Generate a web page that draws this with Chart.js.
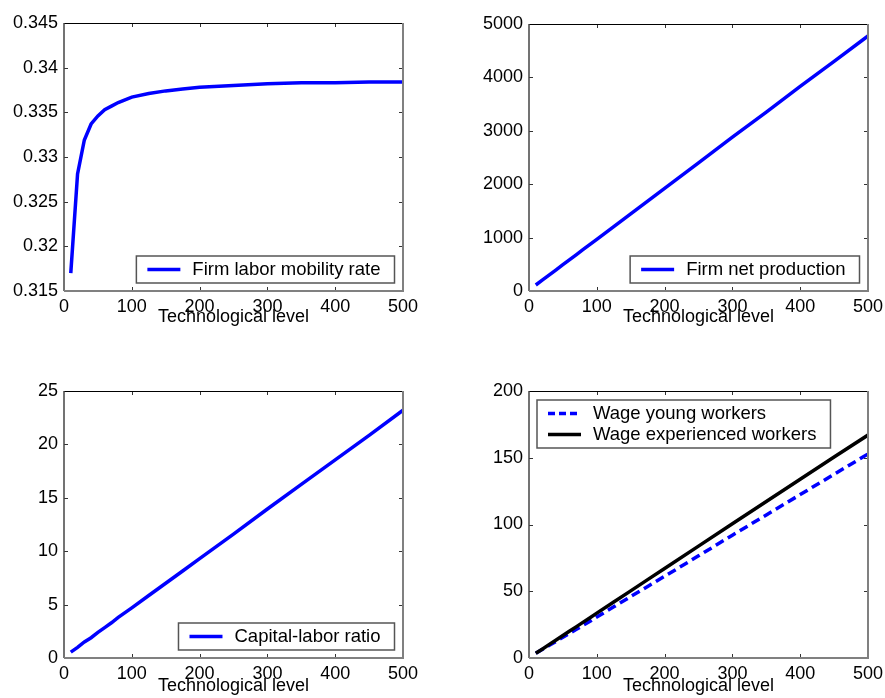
<!DOCTYPE html>
<html>
<head>
<meta charset="utf-8">
<script src="https://cdn.jsdelivr.net/npm/chart.js@4.4.0/dist/chart.umd.min.js"></script>
<style>
html,body{margin:0;padding:0;background:#fff;}
body{width:885px;height:698px;position:relative;overflow:hidden;}
.cell{position:absolute;}
</style>
</head>
<body>
<div class="cell" style="left:0;top:0;width:440px;height:349px"><canvas id="p1"></canvas></div>
<div class="cell" style="left:440px;top:0;width:445px;height:349px"><canvas id="p2"></canvas></div>
<div class="cell" style="left:0;top:349px;width:440px;height:349px"><canvas id="p3"></canvas></div>
<div class="cell" style="left:440px;top:349px;width:445px;height:349px"><canvas id="p4"></canvas></div>
<script>
// values
const techLevel       = [10, 20, 30, 40, 50, 60, 70, 80, 90, 100, 125, 150, 175, 200, 250, 300, 350, 400, 450, 500];
const mobilityRate    = [0.3170, 0.3281, 0.3319, 0.3337, 0.3346, 0.3353, 0.3357, 0.3361, 0.3364, 0.3367, 0.3371, 0.3374, 0.3376, 0.3378, 0.3380, 0.3382, 0.3383, 0.3383, 0.3384, 0.3384];
const netProduction   = [112, 207, 302, 397, 493, 588, 683, 778, 873, 968, 1206, 1444, 1685, 1922, 2398, 2880, 3350, 3830, 4300, 4775];
const capitalLabor    = [0.55, 1.0, 1.5, 1.9, 2.4, 2.85, 3.3, 3.8, 4.25, 4.7, 5.85, 7.0, 8.15, 9.3, 11.6, 13.95, 16.25, 18.55, 20.85, 23.2];
const wageYoung       = [3.5, 6.5, 9.5, 12.5, 15.5, 18.5, 21.5, 24.5, 27.5, 30.7, 38.3, 46.0, 53.6, 61.2, 76.5, 92.0, 107.2, 122.4, 137.6, 152.8];
const wageExperienced = [3.5, 6.8, 10.2, 13.5, 16.9, 20.2, 23.5, 26.9, 30.2, 33.6, 42.0, 50.3, 58.7, 67.0, 83.8, 100.5, 117.2, 133.9, 150.6, 167.0];

const xTicks          = [0, 100, 200, 300, 400, 500];
const mobilityTicks   = [0.315, 0.32, 0.325, 0.33, 0.335, 0.34, 0.345];
const productionTicks = [0, 1000, 2000, 3000, 4000, 5000];
const ratioTicks      = [0, 5, 10, 15, 20, 25];
const wageTicks       = [0, 50, 100, 150, 200];

const FONT = "'Liberation Sans', Arial, Helvetica, sans-serif";
Chart.defaults.font.family = FONT;
Chart.defaults.font.size = 18;
Chart.defaults.color = '#000';

function pts(ys){ return techLevel.map((x, i) => ({x: x, y: ys[i]})); }

// matlab style box, inward ticks and boxed legend
const matlabBox = {
	id: 'matlabBox',
	afterDatasetsDraw(chart, args, opts){
		const ctx = chart.ctx, a = chart.chartArea;
		const xs = chart.scales.x, ys = chart.scales.y;
		ctx.save();
		ctx.strokeStyle = '#333';
		ctx.lineWidth = 1;
		ctx.beginPath();
		xs.ticks.forEach(t => {
			const px = Math.round(xs.getPixelForValue(t.value)) + 0.5;
			if(px < a.left + 2 || px > a.right - 2) return;
			ctx.moveTo(px, a.bottom); ctx.lineTo(px, a.bottom - 4);
			ctx.moveTo(px, a.top); ctx.lineTo(px, a.top + 4);
		});
		ys.ticks.forEach(t => {
			const py = Math.round(ys.getPixelForValue(t.value)) + 0.5;
			if(py < a.top + 2 || py > a.bottom - 2) return;
			ctx.moveTo(a.left, py); ctx.lineTo(a.left + 4, py);
			ctx.moveTo(a.right, py); ctx.lineTo(a.right - 4, py);
		});
		ctx.stroke();

		// frame
		ctx.strokeStyle = '#000'; ctx.lineWidth = 1;
		ctx.beginPath(); ctx.moveTo(a.left, a.top + 0.5); ctx.lineTo(a.right, a.top + 0.5); ctx.stroke();
		ctx.strokeStyle = '#444'; ctx.lineWidth = 1.5;
		ctx.beginPath(); ctx.moveTo(a.left, a.top); ctx.lineTo(a.left, a.bottom); ctx.stroke();
		ctx.strokeStyle = '#808080'; ctx.lineWidth = 2;
		ctx.beginPath(); ctx.moveTo(a.left, a.bottom); ctx.lineTo(a.right, a.bottom); ctx.lineTo(a.right, a.top); ctx.stroke();

		// legend
		const ds = chart.data.datasets;
		ctx.font = '18.5px ' + FONT;
		const tw = Math.max(...ds.map(d => ctx.measureText(d.label).width));
		const w = 56 + tw + 14, h = 27 + 21 * (ds.length - 1);
		let x0, y0;
		if(opts.corner === 'nw'){ x0 = a.left + 8; y0 = a.top + 9; }
		else { x0 = a.right - 8.5 - w; y0 = a.bottom - 8 - h; }
		ctx.fillStyle = '#fff';
		ctx.fillRect(x0, y0, w, h);
		ctx.strokeStyle = '#555'; ctx.lineWidth = 1.5;
		ctx.strokeRect(x0, y0, w, h);
		ds.forEach((d, i) => {
			const yy = y0 + 13.5 + 21 * i;
			ctx.beginPath();
			ctx.setLineDash(d.legendDash || []);
			ctx.strokeStyle = d.borderColor;
			ctx.lineWidth = 3.5;
			ctx.moveTo(x0 + 11, yy); ctx.lineTo(x0 + 44, yy);
			ctx.stroke();
			ctx.setLineDash([]);
			ctx.fillStyle = '#000';
			ctx.textBaseline = 'middle';
			ctx.textAlign = 'left';
			ctx.fillText(d.label, x0 + 56, yy);
		});
		ctx.restore();
	}
};

function panel(id, cell, area, yTicks, datasets, corner, titleY){
	const lineH = 18 * 1.2;
	new Chart(document.getElementById(id), {
		type: 'line',
		data: { datasets: datasets },
		options: {
			responsive: true,
			maintainAspectRatio: false,
			animation: false,
			layout: { padding: { left: 0, top: area.t - cell.y, right: cell.x + cell.w - area.r, bottom: 0 } },
			plugins: { legend: { display: false }, tooltip: { enabled: false }, matlabBox: { corner: corner } },
			elements: { point: { radius: 0 }, line: { tension: 0 } },
			scales: {
				x: {
					type: 'linear', min: 0, max: 500,
					grid: { display: false, drawTicks: false }, border: { display: false },
					afterBuildTicks: s => { s.ticks = xTicks.map(v => ({ value: v })); },
					afterFit: s => { s.height = cell.y + cell.h - area.b; s.paddingLeft = 0; s.paddingRight = 0; },
					ticks: { padding: 5, maxRotation: 0, autoSkip: false, callback: v => String(v) },
					title: { display: true, text: 'Technological level', font: { size: 18 },
						padding: { top: 0, bottom: (cell.y + cell.h - titleY) - lineH / 2 } }
				},
				y: {
					type: 'linear', min: yTicks[0], max: yTicks[yTicks.length - 1],
					grid: { display: false, drawTicks: false }, border: { display: false },
					afterBuildTicks: s => { s.ticks = yTicks.map(v => ({ value: v })); },
					afterFit: s => { s.width = area.l - cell.x; s.paddingTop = 0; s.paddingBottom = 0; },
					ticks: { padding: 6, autoSkip: false, callback: v => String(+v.toFixed(3)) }
				}
			}
		},
		plugins: [matlabBox]
	});
}

const blue = '#0000ff';

panel('p1', {x: 0, y: 0, w: 440, h: 349}, {l: 64, r: 403, t: 23, b: 291}, mobilityTicks,
	[{ label: 'Firm labor mobility rate', data: pts(mobilityRate), borderColor: blue, borderWidth: 3.5 }], 'se', 317);

panel('p2', {x: 440, y: 0, w: 445, h: 349}, {l: 529, r: 868, t: 24, b: 291}, productionTicks,
	[{ label: 'Firm net production', data: pts(netProduction), borderColor: blue, borderWidth: 3.5 }], 'se', 317);

panel('p3', {x: 0, y: 349, w: 440, h: 349}, {l: 64, r: 403, t: 391, b: 658}, ratioTicks,
	[{ label: 'Capital-labor ratio', data: pts(capitalLabor), borderColor: blue, borderWidth: 3.5 }], 'se', 686);

panel('p4', {x: 440, y: 349, w: 445, h: 349}, {l: 529, r: 868, t: 391, b: 658}, wageTicks,
	[{ label: 'Wage young workers', data: pts(wageYoung), borderColor: blue, borderWidth: 3.5, borderDash: [9, 5], legendDash: [7, 4], order: 1 },
	 { label: 'Wage experienced workers', data: pts(wageExperienced), borderColor: '#000', borderWidth: 3.5, order: 0 }], 'nw', 686);
</script>
</body>
</html>
